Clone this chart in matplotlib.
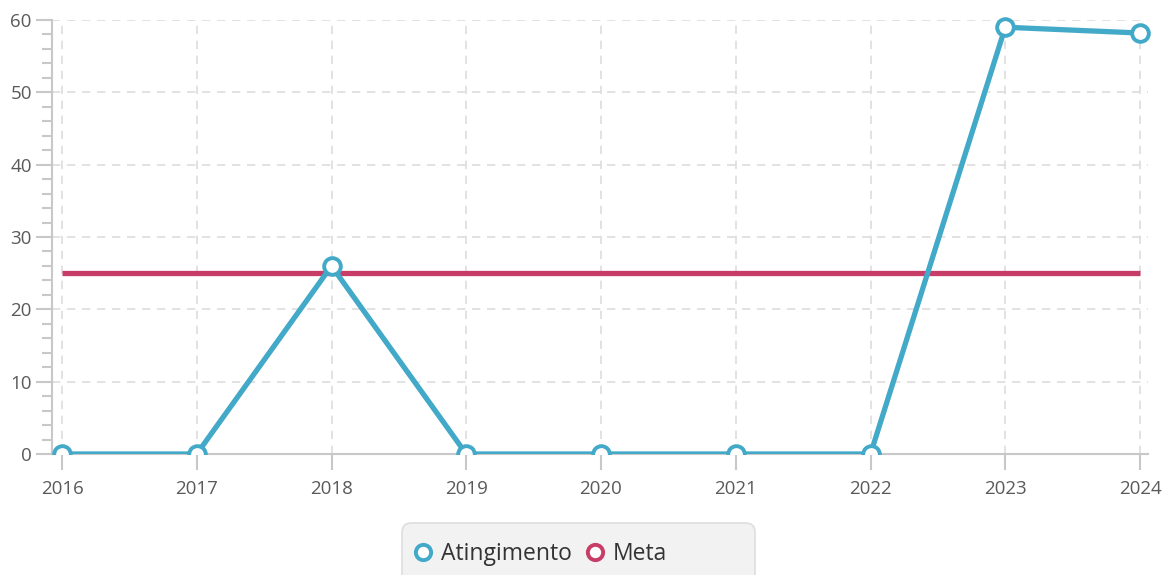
import numpy as np
import matplotlib.pyplot as plt
from matplotlib.lines import Line2D
from matplotlib.patches import Rectangle, FancyBboxPatch
from matplotlib.ticker import MultipleLocator

anos = [2016, 2017, 2018, 2019, 2020, 2021, 2022, 2023, 2024]
atingimento = [0, 0, 26, 0, 0, 0, 0, 59, 58.2]
meta = [25, 25, 25, 25, 25, 25, 25, 25, 25]

azul = '#42a9c8'
vermelho = '#c83d67'

plt.rcParams['font.family'] = ['Open Sans', 'DejaVu Sans']

W, H = 1162, 575
fig = plt.figure(figsize=(W/100, H/100), dpi=100)
ax = fig.add_axes([52/W, 1 - 454/H, (1148 - 52)/W, (454 - 20)/H])

ax.plot(anos, meta, color=vermelho, lw=3.8, solid_capstyle='butt', zorder=3)
linha, = ax.plot(anos, atingimento, color=azul, lw=3.8, marker='o', ms=12,
                 mfc='white', mec=azul, mew=2.8, zorder=4)
# markers at 0 are cut by the x axis, the ones at the top are not
clip = Rectangle((-0.05, 0), 1.1, 1.2, transform=ax.transAxes)
linha.set_clip_path(clip)

ax.set_xlim(2016 - 10/134.75, 2024 + 8/134.75)
ax.set_ylim(0, 60)
ax.set_xticks(anos)
ax.set_xticklabels([str(a) for a in anos])
ax.yaxis.set_major_locator(MultipleLocator(10))
ax.yaxis.set_minor_locator(MultipleLocator(2))

ax.grid(True, which='major', color='#dddddd', ls=(0, (5, 4)), lw=1.2)
ax.set_axisbelow(True)
for s in ['top', 'right']:
    ax.spines[s].set_visible(False)
for s in ['left', 'bottom']:
    ax.spines[s].set_color('#c8c8c8')
    ax.spines[s].set_linewidth(1.5)

ax.tick_params(axis='both', which='major', colors='#c8c8c8', width=1.5,
               length=11.5, labelcolor='#5a5a5a', labelsize=13.5)
ax.tick_params(axis='y', which='minor', colors='#c8c8c8', width=1.5, length=7)
ax.tick_params(axis='x', pad=7)
ax.tick_params(axis='y', pad=3)

# legend box (wider than its content, cut by the bottom edge)
caixa = FancyBboxPatch((402/W, -0.05), (755 - 402)/W, (575 - 523)/H + 0.05,
                       boxstyle='round,pad=0,rounding_size=0.008',
                       transform=fig.transFigure, facecolor='#f2f2f2',
                       edgecolor='#dedede', lw=1.2, mutation_aspect=W/H)
fig.patches.append(caixa)

handles = [
    Line2D([], [], ls='none', marker='o', ms=11, mfc='white', mec=azul, mew=2.8),
    Line2D([], [], ls='none', marker='o', ms=11, mfc='white', mec=vermelho, mew=2.8),
]
leg = fig.legend(handles, ['Atingimento', 'Meta'], loc='center left',
                 bbox_to_anchor=(401/W, 1 - 554/H), ncol=2, fontsize=16.5,
                 frameon=False, handlelength=0.9, handletextpad=0.35,
                 columnspacing=0.55, borderpad=0, labelcolor='#333333')

fig.savefig('out.png', dpi=100)
